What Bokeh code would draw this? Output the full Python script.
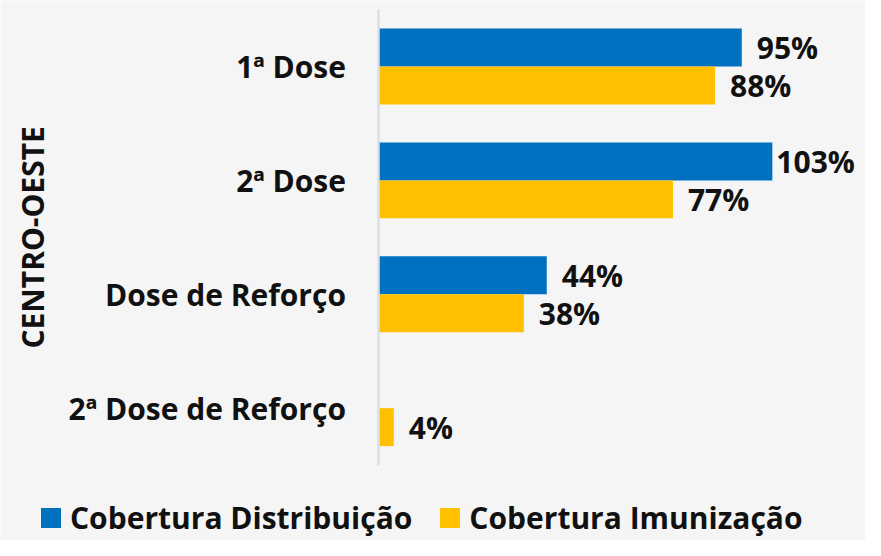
import math
from bokeh.plotting import figure
from bokeh.models import ColumnDataSource, Range1d, Legend, LegendItem, Label
from bokeh.core.properties import value
from bokeh.embed import file_html
from bokeh.resources import INLINE

# ---- data ----
categories = ["1ª Dose", "2ª Dose", "Dose de Reforço", "2ª Dose de Reforço"]
distribuicao = [95, 103, 44, None]
imunizacao = [88, 77, 38, 4]
series_names = ["Cobertura Distribuição", "Cobertura Imunização"]
region = "CENTRO-OESTE"

# ---- style / layout ----
W, H = 865, 540
BLUE = "#0070C0"
YELLOW = "#FFC000"
BG = "#f5f5f5"
FONT = "Open Sans"
FS = "30px"
PX_PER_UNIT = 3.824
ZERO_PX = 378
ROW_PX = 113.9
FIRST_ROW_PX = 66
BAR_H = 0.333

x_lo = -ZERO_PX / PX_PER_UNIT
x_hi = (W - ZERO_PX) / PX_PER_UNIT
y_top = -FIRST_ROW_PX / ROW_PX
y_bot = (H - FIRST_ROW_PX) / ROW_PX

p = figure(width=W, height=H, output_backend="svg", toolbar_location=None,
           x_range=Range1d(x_lo, x_hi), y_range=Range1d(y_bot, y_top),
           x_axis_location=None, y_axis_location=None,
           min_border=0, background_fill_color=BG, border_fill_color=BG,
           outline_line_color=None)
p.grid.visible = False

idx = list(range(len(categories)))

d_rows = [(i, v) for i, v in zip(idx, distribuicao) if v is not None]
d_src = ColumnDataSource(dict(
    y=[i - BAR_H / 2 for i, _ in d_rows],
    v=[v for _, v in d_rows],
    lab=[f"{v}%" for _, v in d_rows],
    off=[15 if v < 100 else 4 for _, v in d_rows],
))
i_src = ColumnDataSource(dict(
    y=[i + BAR_H / 2 for i in idx],
    v=imunizacao,
    lab=[f"{v}%" for v in imunizacao],
    off=[15 if v < 100 else 4 for v in imunizacao],
))

r_d = p.hbar(y="y", left=0, right="v", height=BAR_H, source=d_src,
             fill_color=BLUE, line_color=None)
r_i = p.hbar(y="y", left=0, right="v", height=BAR_H, source=i_src,
             fill_color=YELLOW, line_color=None)

for src in (d_src, i_src):
    p.text(x="v", y="y", text="lab", x_offset="off", source=src,
           text_font=value(FONT), text_font_size=FS, text_font_style="bold",
           text_color="#111111", text_align="left", text_baseline="middle")

# vertical axis line
p.segment(x0=[0], y0=[-0.5], x1=[0], y1=[len(categories) - 0.5],
          line_color="#d9dfe7", line_width=2.5)

# category labels
cat_src = ColumnDataSource(dict(y=idx, t=categories, x=[-8.5] * len(idx)))
p.text(x="x", y="y", text="t", source=cat_src,
       text_font=value(FONT), text_font_size=FS, text_font_style="bold",
       text_color="#111111", text_align="right", text_baseline="middle")

# region label
p.add_layout(Label(x=32, y=(len(categories) - 1) / 2, x_units="screen", y_units="data",
                   text=region, angle=math.pi / 2, text_font=FONT, text_font_size=FS,
                   text_font_style="bold", text_color="#111111",
                   text_align="center", text_baseline="middle"))

legend = Legend(items=[LegendItem(label=series_names[0], renderers=[r_d]),
                       LegendItem(label=series_names[1], renderers=[r_i])],
                orientation="horizontal", location=(38, 2),
                label_text_font=FONT, label_text_font_size=FS,
                label_text_font_style="bold", label_text_color="#111111",
                glyph_width=25, glyph_height=25, label_standoff=7, spacing=25,
                padding=0, margin=0, border_line_alpha=0, background_fill_alpha=0)
p.add_layout(legend)

open("out.html", "w").write(file_html(p, INLINE))
